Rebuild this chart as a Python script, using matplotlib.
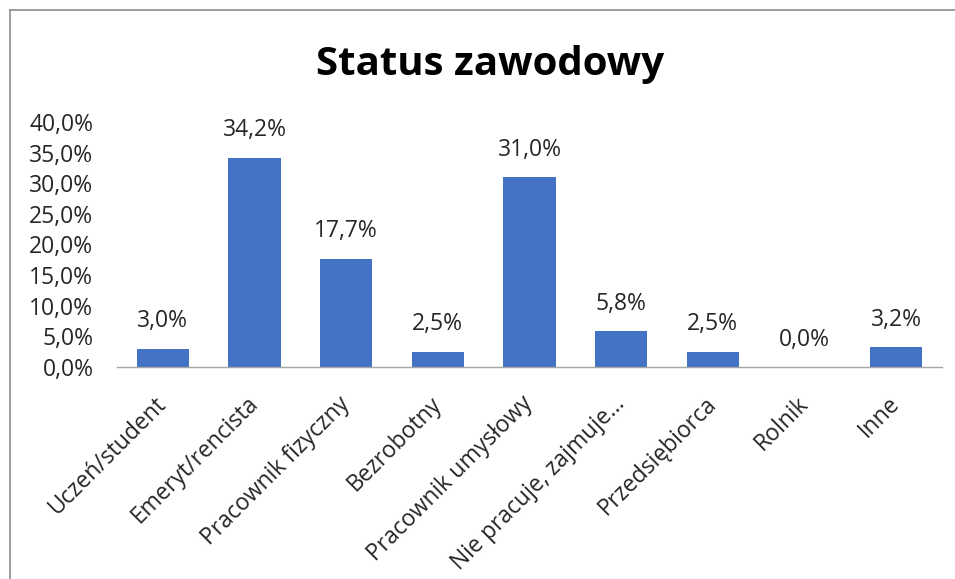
import matplotlib
matplotlib.use("Agg")
import matplotlib.pyplot as plt
from matplotlib.ticker import FixedLocator, FixedFormatter
from matplotlib.lines import Line2D

categories = ["Uczeń/student", "Emeryt/rencista", "Pracownik fizyczny", "Bezrobotny",
              "Pracownik umysłowy", "Nie pracuje, zajmuje…", "Przedsiębiorca", "Rolnik", "Inne"]
values = [3.0, 34.2, 17.7, 2.5, 31.0, 5.8, 2.5, 0.0, 3.2]
value_labels = ["3,0%", "34,2%", "17,7%", "2,5%", "31,0%", "5,8%", "2,5%", "0,0%", "3,2%"]
y_ticks = [0, 5, 10, 15, 20, 25, 30, 35, 40]
y_tick_labels = ["0,0%", "5,0%", "10,0%", "15,0%", "20,0%", "25,0%", "30,0%", "35,0%", "40,0%"]
title = "Status zawodowy"

plt.rcParams['font.family'] = ['Open Sans', 'DejaVu Sans']

fig = plt.figure(figsize=(9.55, 5.79), dpi=100)
ax = fig.add_axes([117/955, 1-367/579, (942-117)/955, (367-122)/579])

x = list(range(len(categories)))
ax.bar(x, values, width=0.57, color="#4472C4", zorder=2)
ax.set_xlim(-0.5, len(categories) - 0.5)
ax.set_ylim(0, 40)

fs = 16.5
ax.yaxis.set_major_locator(FixedLocator(y_ticks))
ax.yaxis.set_major_formatter(FixedFormatter(y_tick_labels))
ax.tick_params(axis='y', length=0, pad=17, labelsize=fs, labelcolor="#262626")

ax.set_xticks(x)
ax.set_xticklabels(categories, rotation=45, ha='right', va='center', rotation_mode='anchor',
                   fontsize=fs, color="#262626")
ax.tick_params(axis='x', length=0, pad=24)

for s in ['top', 'right', 'left']:
    ax.spines[s].set_visible(False)
ax.spines['bottom'].set_color("#A6A6A6")
ax.spines['bottom'].set_linewidth(1.0)

for xi, v, lab in zip(x, values, value_labels):
    ax.annotate(lab, (xi, v), xytext=(0, 11), textcoords='offset points',
                ha='center', va='bottom', fontsize=fs, color="#262626")

fig.text(490/955, 1-64/579, title, ha='center', va='center', fontsize=29, fontweight='bold',
         color='black')

# outer chart border (top and left edges visible)
fig.add_artist(Line2D([10/955, 1], [1-10/579, 1-10/579], transform=fig.transFigure,
                      color="#8C8C8C", linewidth=1.2))
fig.add_artist(Line2D([10/955, 10/955], [0, 1-10/579], transform=fig.transFigure,
                      color="#8C8C8C", linewidth=1.2))

fig.savefig("out.png", dpi=100)
